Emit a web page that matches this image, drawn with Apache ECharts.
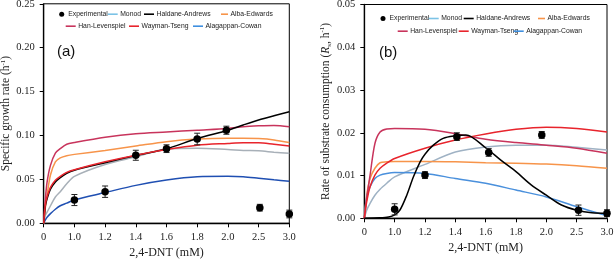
<!DOCTYPE html>
<html><head><meta charset="utf-8">
<script src="https://cdn.jsdelivr.net/npm/echarts@6/dist/echarts.min.js"></script>
<style>html,body{margin:0;padding:0;background:#fff}#c{width:614px;height:259px}</style>
</head><body><div id="c"></div>
<script>
// x axis: evenly spaced ticks at these concentrations
const tickValues = [0, 1.0, 1.2, 1.4, 1.6, 1.8, 2.0, 2.5, 3.0];
const tickLabels = ['0', '1.0', '1.2', '1.4', '1.6', '1.8', '2.0', '2.5', '3.0'];
const seriesNames = ['Experimental', 'Monod', 'Haldane-Andrews', 'Alba-Edwards', 'Han-Levenspiel', 'Wayman-Tseng', 'Alagappan-Cowan'];

// ---- Panel (a): specific growth rate ----
const expA_x = [1.0, 1.2, 1.4, 1.6, 1.8, 1.99, 2.52, 3.0];
const expA_y = [0.0265, 0.036, 0.0775, 0.085, 0.096, 0.106, 0.0178, 0.0106];
const expA_err = [0.0063, 0.0065, 0.0057, 0.0044, 0.0066, 0.0046, 0.0038, 0.0044];
const curveA_x = [0, 0.055, 0.11, 0.22, 0.38, 0.54, 0.75, 1.0, 1.2, 1.4, 1.6, 1.8, 2.0, 2.25, 2.5, 2.75, 3.0];
const monodA = [0, 0.009, 0.0127, 0.020, 0.030, 0.036, 0.045, 0.0535, 0.067, 0.0757, 0.0845, 0.0855, 0.084, 0.083, 0.0825, 0.081, 0.0797];
const haldaneA = [0, 0.020, 0.028, 0.039, 0.047, 0.052, 0.057, 0.0605, 0.069, 0.0772, 0.085, 0.0965, 0.106, 0.112, 0.1177, 0.1225, 0.127];
const albaA = [0, 0.018, 0.032, 0.055, 0.070, 0.0745, 0.077, 0.0785, 0.083, 0.088, 0.093, 0.096, 0.097, 0.097, 0.0965, 0.095, 0.092];
const hanA = [0, 0.028, 0.047, 0.066, 0.080, 0.085, 0.090, 0.092, 0.098, 0.102, 0.104, 0.106, 0.108, 0.110, 0.111, 0.1115, 0.110];
const waymanA = [0, 0.022, 0.030, 0.041, 0.049, 0.0535, 0.058, 0.061, 0.070, 0.0776, 0.084, 0.089, 0.091, 0.0918, 0.0918, 0.090, 0.088];
const alagA = [0, 0.004, 0.007, 0.011, 0.016, 0.020, 0.023, 0.0267, 0.035, 0.0432, 0.0493, 0.053, 0.0535, 0.053, 0.0513, 0.0495, 0.048];

// ---- Panel (b): rate of substrate consumption ----
const expB_x = [1.0, 1.2, 1.41, 1.62, 1.97, 2.53, 3.0];
const expB_y = [0.0021, 0.0101, 0.0191, 0.0154, 0.0195, 0.0019, 0.0012];
const expB_err = [0.0013, 0.0008, 0.0009, 0.0009, 0.0008, 0.0012, 0.0008];
const curveB_x = [0, 0.08, 0.19, 0.35, 0.52, 0.74, 1.0, 1.2, 1.4, 1.6, 1.8, 2.0, 2.5, 3.0];
const monodB = [0, 0.0019, 0.0035, 0.0054, 0.0068, 0.0082, 0.0097, 0.0126, 0.0155, 0.0167, 0.0171, 0.0171, 0.0166, 0.016];
const albaB = [0, 0.0054, 0.0093, 0.0117, 0.013, 0.0132, 0.0133, 0.0133, 0.0132, 0.013, 0.0129, 0.0127, 0.0123, 0.0117];
const hanB = [0, 0.0047, 0.0101, 0.0175, 0.0202, 0.0209, 0.021, 0.0208, 0.0198, 0.0185, 0.0177, 0.0171, 0.0164, 0.0152];
const waymanB = [0, 0.0039, 0.0074, 0.0101, 0.0117, 0.0129, 0.014, 0.0164, 0.0183, 0.0197, 0.0208, 0.0213, 0.021, 0.0202];
const alagB = [0, 0.005, 0.0074, 0.0093, 0.0101, 0.0105, 0.0107, 0.0105, 0.0093, 0.0082, 0.0066, 0.005, 0.0027, 0.0006];
const haldaneB_x = [0, 0.5, 0.8, 1.0, 1.036, 1.08, 1.124, 1.168, 1.2, 1.255, 1.32, 1.4, 1.47, 1.6, 1.7, 1.8, 1.9, 2.0, 2.25, 2.5, 2.75, 3.0];
const haldaneB = [0, 0.0001, 0.0003, 0.0008, 0.002, 0.0054, 0.0097, 0.0132, 0.015, 0.0171, 0.0187, 0.0193, 0.0195, 0.0165, 0.0136, 0.0109, 0.0078, 0.0054, 0.0031, 0.0019, 0.0013, 0.0012];

// map concentration to evenly spaced tick index
function toIdx(x) {
  for (let i = 0; i < tickValues.length - 1; i++) {
    if (x <= tickValues[i + 1] || i === tickValues.length - 2) {
      return i + (x - tickValues[i]) / (tickValues[i + 1] - tickValues[i]);
    }
  }
  return 0;
}
const pts = (xs, ys) => xs.map((x, i) => [toIdx(x), ys[i]]);
const errs = (xs, ys, es) => xs.map((x, i) => [toIdx(x), ys[i] - es[i], ys[i] + es[i]]);

const C = {
  monod: '#a8b0b8', monodB: '#9fb2c4', monodLeg: '#7cc3e6',
  haldane: '#000000', alba: '#f7944a', han: '#c8345c', wayman: '#e8242c',
  alagA: '#1f4fb2', alagB: '#4a90dc', alagLeg: '#3e8fe0'
};

function line(name, data, color, gi) {
  return { type: 'line', name, data, xAxisIndex: gi, yAxisIndex: gi, symbol: 'none', showSymbol: false,
    smooth: 0.3, lineStyle: { color, width: 1.5 }, itemStyle: { color },
    silent: true, animation: false, clip: true };
}
function errRender(params, api) {
  const x = api.value(0), lo = api.value(1), hi = api.value(2);
  const p1 = api.coord([x, lo]), p2 = api.coord([x, hi]);
  const w = 3, st = { stroke: '#222', lineWidth: 1 };
  return { type: 'group', children: [
    { type: 'line', shape: { x1: p1[0], y1: p1[1], x2: p2[0], y2: p2[1] }, style: st },
    { type: 'line', shape: { x1: p1[0] - w, y1: p1[1], x2: p1[0] + w, y2: p1[1] }, style: st },
    { type: 'line', shape: { x1: p2[0] - w, y1: p2[1], x2: p2[0] + w, y2: p2[1] }, style: st }
  ]};
}
function errSeries(data, gi) {
  return { type: 'custom', xAxisIndex: gi, yAxisIndex: gi, data, renderItem: errRender,
    encode: { x: 0, y: [1, 2] }, silent: true, animation: false, z: 5 };
}
function scat(data, gi) {
  return { type: 'scatter', name: 'Experimental', xAxisIndex: gi, yAxisIndex: gi, data,
    symbolSize: 7.5, itemStyle: { color: '#000', opacity: 1 }, silent: true, animation: false, z: 6 };
}

const serif = 'Liberation Serif';
function xAxis(gi, gap) {
  return { type: 'value', gridIndex: gi, min: 0, max: 8, interval: 1,
    axisLine: { show: true, onZero: false, lineStyle: { color: '#000', width: 1.3 } },
    axisTick: { show: true, length: 4, lineStyle: { color: '#000' } },
    splitLine: { show: false },
    axisLabel: { fontFamily: serif, fontSize: 10.5, color: '#222', margin: 8,
      formatter: v => tickLabels[Math.round(v)] },
    name: '2,4-DNT (mM)', nameLocation: 'middle', nameGap: gap,
    nameTextStyle: { fontFamily: serif, fontSize: 12, color: '#222' } };
}
function yAxis(gi, max, interval, name, rich) {
  return { type: 'value', gridIndex: gi, min: 0, max, interval,
    axisLine: { show: true, lineStyle: { color: '#000', width: 1.3 } },
    axisTick: { show: true, length: 4, lineStyle: { color: '#000' } },
    splitLine: { show: false },
    axisLabel: { fontFamily: serif, fontSize: 10.5, color: '#222', margin: 9,
      formatter: v => v.toFixed(2) },
    name, nameLocation: 'middle', nameGap: 30, nameRotate: 90,
    nameTextStyle: { fontFamily: serif, fontSize: 11.5, color: '#222', rich } };
}
const richY = {
  t: { fontFamily: serif, fontSize: 11.5, color: '#222', lineHeight: 14 },
  i: { fontFamily: serif, fontSize: 11.5, color: '#222', fontStyle: 'italic', lineHeight: 14 },
  sup: { fontFamily: serif, fontSize: 7, color: '#222', verticalAlign: 'top', lineHeight: 14 },
  sub: { fontFamily: serif, fontSize: 7, color: '#222', verticalAlign: 'bottom', lineHeight: 14 }
};

const legendColor = {
  'Monod': C.monodLeg, 'Haldane-Andrews': C.haldane, 'Alba-Edwards': C.alba,
  'Han-Levenspiel': C.han, 'Wayman-Tseng': C.wayman, 'Alagappan-Cowan': C.alagLeg
};
function leg(name, left, cy, w) {
  const isExp = name === 'Experimental';
  const col = isExp ? '#000' : legendColor[name];
  return { show: true, selectedMode: false, left, top: cy - 5, padding: 0, itemGap: 0,
    itemWidth: isExp ? 5 : (w || 10), itemHeight: isExp ? 5 : 1.6,
    data: [{ name, icon: isExp ? 'circle' : 'rect', itemStyle: { color: col, borderWidth: 0, opacity: 1 } }],
    textStyle: { fontFamily: 'Liberation Sans', fontSize: 6.8, color: '#222', padding: [0, 0, 0, isExp ? -1 : -2.5] } };
}

const option = {
  animation: false,
  backgroundColor: '#fff',
  grid: [
    { left: 43.7, top: 3.8, width: 245.6, height: 219.5, show: true, borderColor: '#000', borderWidth: 1, backgroundColor: 'transparent', outerBoundsMode: 'none', containLabel: false },
    { left: 364.3, top: 4.5, width: 242.7, height: 213.8, show: true, borderColor: '#000', borderWidth: 1, backgroundColor: 'transparent', outerBoundsMode: 'none', containLabel: false }
  ],
  xAxis: [xAxis(0, 22.4), xAxis(1, 23.4)],
  yAxis: [
    yAxis(0, 0.25, 0.05, '{t|Specific growth rate (h}{sup|-1}{t|)}', richY),
    yAxis(1, 0.05, 0.01, '{t|Rate of substrate consumption (}{i|R}{sub|s}{t|, h}{sup|-1}{t|)}', richY)
  ],
  legend: [
    leg('Experimental', 59.2, 15.7), leg('Monod', 107.7, 15.7), leg('Haldane-Andrews', 144, 15.7), leg('Alba-Edwards', 221, 15.7, 7),
    leg('Han-Levenspiel', 65.7, 27.7), leg('Wayman-Tseng', 129, 27.7), leg('Alagappan-Cowan', 193, 27.7),
    leg('Experimental', 380.5, 20), leg('Monod', 428.7, 20), leg('Haldane-Andrews', 463.7, 20), leg('Alba-Edwards', 538, 20, 7),
    leg('Han-Levenspiel', 397.7, 32.7), leg('Wayman-Tseng', 458.7, 32.7), leg('Alagappan-Cowan', 513.7, 32.7)
  ],
  graphic: [
    { type: 'text', left: 57, top: 44, style: { text: '(a)', font: '15px "Liberation Sans"', fill: '#111' } },
    { type: 'text', left: 379, top: 45, style: { text: '(b)', font: '15px "Liberation Sans"', fill: '#111' } }
  ],
  series: [
    line('Monod', pts(curveA_x, monodA), C.monod, 0),
    line('Alagappan-Cowan', pts(curveA_x, alagA), C.alagA, 0),
    line('Alba-Edwards', pts(curveA_x, albaA), C.alba, 0),
    line('Han-Levenspiel', pts(curveA_x, hanA), C.han, 0),
    line('Haldane-Andrews', pts(curveA_x, haldaneA), C.haldane, 0),
    line('Wayman-Tseng', pts(curveA_x, waymanA), C.wayman, 0),
    errSeries(errs(expA_x, expA_y, expA_err), 0),
    scat(pts(expA_x, expA_y), 0),

    line('Monod', pts(curveB_x, monodB), C.monodB, 1),
    line('Alba-Edwards', pts(curveB_x, albaB), C.alba, 1),
    line('Alagappan-Cowan', pts(curveB_x, alagB), C.alagB, 1),
    line('Han-Levenspiel', pts(curveB_x, hanB), C.han, 1),
    line('Wayman-Tseng', pts(curveB_x, waymanB), C.wayman, 1),
    line('Haldane-Andrews', pts(haldaneB_x, haldaneB), C.haldane, 1),
    errSeries(errs(expB_x, expB_y, expB_err), 1),
    scat(pts(expB_x, expB_y), 1)
  ]
};
const chart = echarts.init(document.getElementById('c'), null, { renderer: 'canvas' });
chart.setOption(option);
</script>
</body></html>
